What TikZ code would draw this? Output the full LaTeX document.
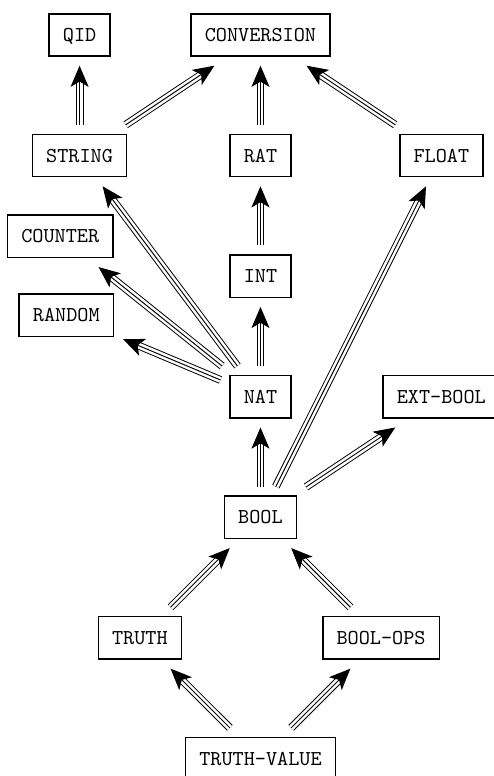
\documentclass[tikz,border=0pt]{standalone}
\usepackage{tikz}
\usetikzlibrary{arrows.meta}
\tikzstyle{sort}=[draw,rectangle,line width=0.7pt,font=\ttfamily,inner xsep=6.5pt,inner ysep=2pt,minimum height=20pt,text height=6.2pt,text depth=0pt,outer sep=4.5pt]
\tikzstyle{imp}=[draw,line width=0.45pt,-{Stealth[length=10pt,width=8.5pt,inset=2.5pt]},preaction={draw,-,line width=0.45pt,double,double distance=2.8pt,shorten >=7pt}]

\begin{document}
\begin{tikzpicture}
\useasboundingbox (-4.32,-4.29) rectangle (3.87,8.58);
\tikzstyle{sort}=[draw,rectangle,line width=0.7pt,font=\ttfamily,inner xsep=6.5pt,inner ysep=2pt,minimum height=20pt,text height=6.2pt,text depth=0pt,outer sep=4.5pt]
    \node [sort] (qid) at (-3,8) {QID};
    \node [sort] (conv) at (0,8) {CONVERSION};
    \node [sort] (str) at (-3,6) {STRING};
    \node [sort] (rat) at (0,6) {RAT};
    \node [sort] (flt) at (3,6) {FLOAT};
    \node [sort] (cnt) at (-3.32,4.66) {COUNTER};
    \node [sort] (int) at (0,4) {INT};
    \node [sort] (rnd) at (-3.22,3.35) {RANDOM};
    \node [sort] (nat) at (0,2) {NAT};
    \node [sort] (ext) at (3,2) {EXT-BOOL};
    \node [sort] (bool) at (0,0) {BOOL};
    \node [sort] (tr) at (-2,-2) {TRUTH};
    \node [sort] (ops) at (2,-2) {BOOL-OPS};
    \node [sort] (tv) at (0,-4) {TRUTH-VALUE};

\draw [imp] (str) -- (qid);
\draw [imp] (str) -- (conv);
\draw [imp] (rat) -- (conv);
\draw [imp] (flt) -- (conv);
\draw [imp] (int) -- (rat);
\draw [imp] (nat) -- (int);
\draw [imp] (nat) -- (str);
\draw [imp] (nat) -- (cnt);
\draw [imp] (nat) -- (rnd);
\draw [imp] (bool) -- (nat);
\draw [imp] (bool) -- (flt);
\draw [imp] (bool) -- (ext);
\draw [imp] (tr) -- (bool);
\draw [imp] (ops) -- (bool);
\draw [imp] (tv) -- (tr);
\draw [imp] (tv) -- (ops);
\end{tikzpicture}
\end{document}
